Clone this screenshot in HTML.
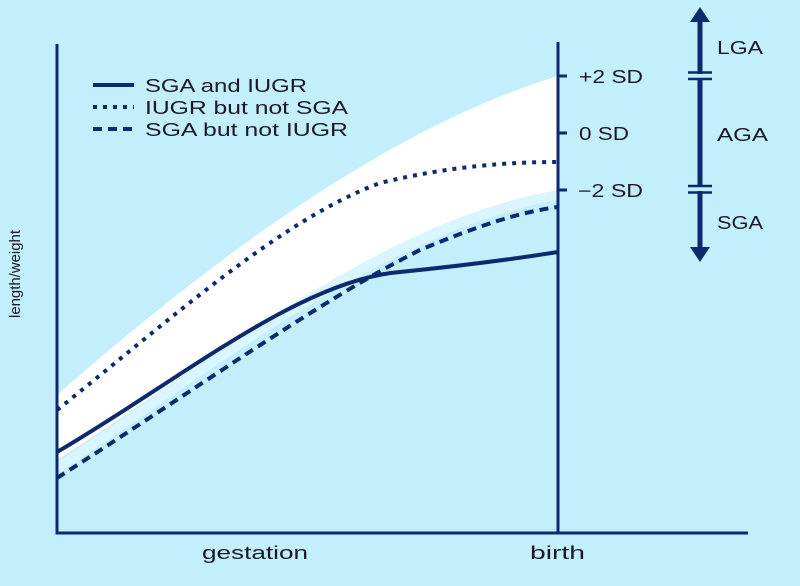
<!DOCTYPE html>
<html><head><style>
html,body{margin:0;padding:0;background:#c3eefc;}
svg{display:block;font-family:"Liberation Sans",sans-serif;}
</style></head><body>
<svg width="800" height="586" viewBox="0 0 800 586">
<rect width="800" height="586" fill="#c3eefc"/>
<path d="M57,462 C200,370 380,220 558,188 L558,200 C380,232 200,382 57,474 Z" fill="#d9f5fd"/>
<path d="M57,395 C200,270 380,130 558,76 L558,190 C380,220 200,370 57,460 Z" fill="#ffffff"/>
<g fill="none" stroke="#0d2a6e" stroke-width="4">
<path d="M57,452 C180,380 300,280 400,272 C460,266 520,258 558,252"/>
<path d="M57,410 C170,320 280,220 380,183 C450,166 510,162 558,162" stroke-dasharray="4,6"/>
<path d="M57,478 C180,400 320,300 420,250 C480,225 520,212 558,207" stroke-dasharray="9,6"/>
</g>
<g stroke="#0d2a6e" stroke-width="3" fill="none">
<path d="M57,44 V533 H748"/>
<path d="M558,42 V533"/>
<path d="M558,76 H567 M558,133 H567 M558,190 H567"/>
</g>
<g stroke="#0d2a6e" fill="#0d2a6e">
<line x1="700" y1="20" x2="700" y2="250" stroke-width="5"/>
<polygon points="700,7 690,22 710,22" stroke="none"/>
<polygon points="700,262 690,247 710,247" stroke="none"/>
</g>
<g fill="#c3eefc"><rect x="686" y="74" width="28" height="4"/><rect x="686" y="187" width="28" height="4"/></g>
<g stroke="#0d2a6e" stroke-width="2.5"><path d="M688,72.5 H712 M688,79 H712 M688,186 H712 M688,192.5 H712"/></g>
<g fill="#1a1a2a" font-size="18">
<text x="579" y="83" textLength="64" lengthAdjust="spacingAndGlyphs">+2 SD</text>
<text x="579" y="140" textLength="50" lengthAdjust="spacingAndGlyphs">0 SD</text>
<text x="578" y="197" textLength="65" lengthAdjust="spacingAndGlyphs">−2 SD</text>
<text x="717" y="54" textLength="46" lengthAdjust="spacingAndGlyphs">LGA</text>
<text x="717" y="141" textLength="51" lengthAdjust="spacingAndGlyphs">AGA</text>
<text x="717" y="229" textLength="46" lengthAdjust="spacingAndGlyphs">SGA</text>
<text x="145" y="92" textLength="162" lengthAdjust="spacingAndGlyphs">SGA and IUGR</text>
<text x="145" y="114" textLength="203" lengthAdjust="spacingAndGlyphs">IUGR but not SGA</text>
<text x="145" y="136" textLength="203" lengthAdjust="spacingAndGlyphs">SGA but not IUGR</text>
<text x="202" y="559" textLength="106" lengthAdjust="spacingAndGlyphs">gestation</text>
<text x="530" y="559" textLength="55" lengthAdjust="spacingAndGlyphs">birth</text>
<text transform="translate(20,318) rotate(-90)" font-size="15" textLength="88" lengthAdjust="spacingAndGlyphs">length/weight</text>
</g>
<g stroke="#0d2a6e" stroke-width="4">
<line x1="93" y1="85" x2="134" y2="85"/>
<line x1="93" y1="107" x2="134" y2="107" stroke-dasharray="4,6"/>
<line x1="93" y1="129" x2="134" y2="129" stroke-dasharray="9,6"/>
</g>
</svg>
</body></html>
